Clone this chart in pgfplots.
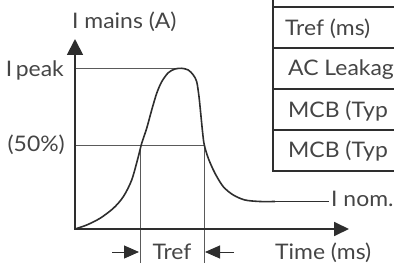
\documentclass[border=0pt]{standalone}
\usepackage{pgfplots}
\pgfplotsset{compat=1.18}
\usetikzlibrary{arrows.meta}
\usepackage{fontspec}
\setmainfont{Lato}[FakeStretch=1.07]
\definecolor{ink}{HTML}{2E2E2E}
\definecolor{txt}{HTML}{454545}
\definecolor{guide}{HTML}{5A5A5A}
\tikzset{lbl/.style={font=\fontsize{21.5}{24}\selectfont,text=txt,inner sep=0pt}}
\begin{document}
\begin{tikzpicture}[x=1bp,y=1bp]
\begin{axis}[at={(0,0)},anchor=south west,scale only axis,
  width=394bp,height=263bp,xmin=0,xmax=394,ymin=0,ymax=263,
  y dir=reverse,hide axis,clip=false]
% guide lines
\addplot[guide,line width=0.8bp] coordinates {(75,68) (182,68)};
\addplot[guide,line width=0.8bp] coordinates {(75,145) (204,145)};
\addplot[guide,line width=0.8bp] coordinates {(140,145) (140,263)};
\addplot[guide,line width=0.8bp] coordinates {(204,145) (204,263)};
% curve
\addplot[ink,line width=1.6bp,smooth] coordinates {
(75,229) (86.7,225) (100,218.3) (113.3,208.3) (123.3,196.7) (131.7,180)
(138.3,156.7) (141.7,143.3) (146.7,128.3) (151.7,110) (156.7,93.3)
(161.7,81.7) (168.3,72.7) (175,69) (181.7,68.3) (188.3,70) (193.3,75)
(196.7,81.7) (199,96.7) (200.7,113.3) (202.7,133.3) (204.3,145)
(208.3,158.3) (215,173.3) (223.3,186.7) (233.3,195) (245,200) (260,201.5)
(275,201.5)};
\addplot[ink,line width=1.2bp] coordinates {(275,201.5) (329,201.5)};
% axes
\draw[ink,line width=1.8bp,-{Triangle[length=16bp,width=16bp]}] (75,229) -- (75,39);
\draw[ink,line width=1.8bp,-{Triangle[length=15bp,width=14bp]}] (74,229) -- (349,229);
% Tref arrows
\draw[ink,line width=1bp,-{Triangle[length=15bp,width=13bp]}] (112,252) -- (139,252);
\draw[ink,line width=1bp,-{Triangle[length=15bp,width=13bp]}] (234,252) -- (205,252);
% table
\draw[ink,line width=1.1bp] (273,-2) -- (273,171) -- (400,171);
\draw[ink,line width=1.1bp] (273,7) -- (400,7);
\draw[ink,line width=1.1bp] (273,48) -- (400,48);
\draw[ink,line width=1.1bp] (273,89) -- (400,89);
\draw[ink,line width=1.1bp] (273,130) -- (400,130);
% labels
\node[lbl,anchor=base west] at (72,29) {I mains (A)};
\node[lbl,anchor=base east] at (64,76) {I\,peak};
\node[lbl,anchor=base east] at (65,151) {(50\%)};
\node[lbl,anchor=base] at (172,259) {Tref};
\node[lbl,anchor=base west] at (275,259) {Time (ms)};
\node[lbl,anchor=base west] at (331,206) {I nom.};
\node[lbl,anchor=base west] at (285,35) {Tref (ms)};
\node[lbl,anchor=base west] at (288,75) {AC Leakag};
\node[lbl,anchor=base west] at (288,117) {MCB (Typ};
\node[lbl,anchor=base west] at (288,157) {MCB (Typ};
\end{axis}
\pgfresetboundingbox
\path[use as bounding box] (0,0) rectangle (394bp,263bp);
\end{tikzpicture}
\end{document}
